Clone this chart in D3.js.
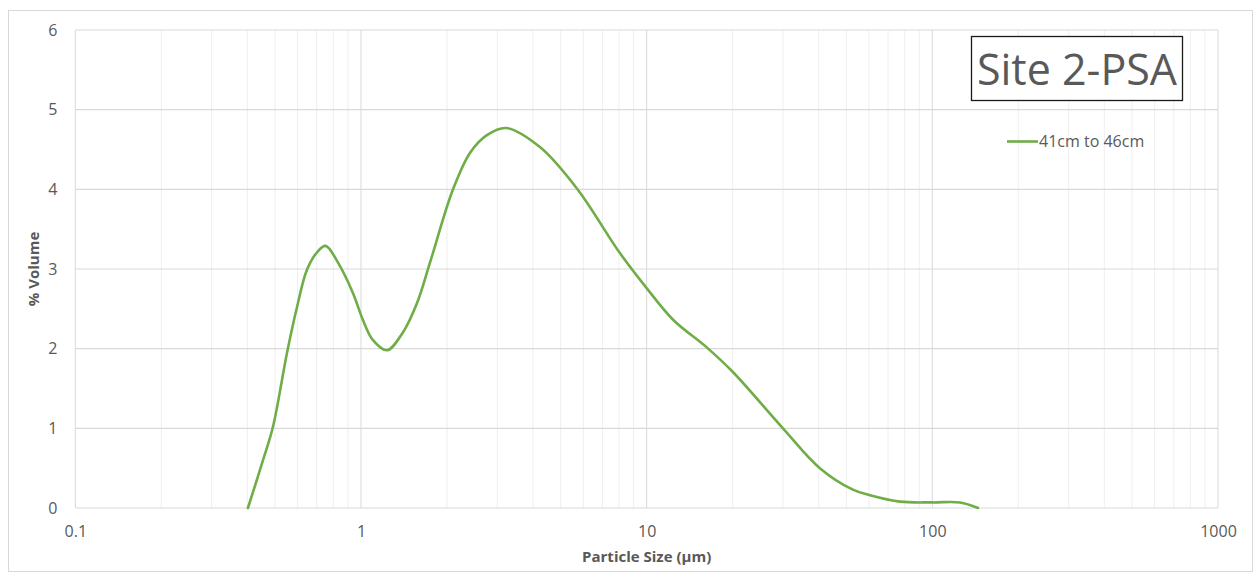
<!DOCTYPE html>
<html><head><meta charset="utf-8">
<script src="https://cdn.jsdelivr.net/npm/d3@7"></script>
<style>body{margin:0;background:#fff}svg{display:block}text{font-family:"Open Sans","Noto Sans",sans-serif}</style>
</head><body>
<svg id="c" width="1255" height="575"></svg>
<script>
const sizes = [0.402,0.454,0.492,0.551,0.597,0.647,0.702,0.752,0.831,0.937,1.016,1.10,1.233,1.40,1.57,1.744,2.10,2.41,2.76,3.22,4.23,5.70,8.06,10.0,12.4,16.3,20.0,30.0,40.4,52.7,60.5,77.0,100,125,144.5];
const volume = [0,0.60,1.02,1.95,2.52,2.99,3.21,3.29,3.08,2.70,2.36,2.11,1.98,2.20,2.57,3.08,4.00,4.46,4.68,4.77,4.53,4.01,3.20,2.76,2.36,2.01,1.71,1.00,0.50,0.23,0.16,0.08,0.07,0.07,0];
const xTicks = [0.1,1,10,100,1000];
const yTicks = [0,1,2,3,4,5,6];
const seriesName = "41cm to 46cm";
const chartTitle = "Site 2-PSA";
const xTitle = "Particle Size (µm)";
const yTitle = "% Volume";

const svg = d3.select("#c");
const L=75.3, R=1218, T=30, B=508;
const x = d3.scaleLog().domain([0.1,1000]).range([L,R]);
const y = d3.scaleLinear().domain([0,6]).range([B,T]);

svg.append("rect").attr("x",8.5).attr("y",10.5).attr("width",1244).attr("height",561)
  .attr("fill","#fff").attr("stroke","#d9d9d9");

const minor=[];
for(let d=0.1; d<1000; d*=10){ for(let k=2;k<=9;k++) minor.push(+(d*k).toPrecision(3)); }
svg.append("g").selectAll("line").data(minor).join("line")
  .attr("x1",d=>x(d)).attr("x2",d=>x(d)).attr("y1",T).attr("y2",B)
  .attr("stroke","#efefef").attr("stroke-width",1);
svg.append("g").selectAll("line").data(xTicks).join("line")
  .attr("x1",d=>x(d)).attr("x2",d=>x(d)).attr("y1",T).attr("y2",B)
  .attr("stroke","#d9d9d9").attr("stroke-width",1);
svg.append("g").selectAll("line").data(yTicks).join("line")
  .attr("x1",L).attr("x2",R).attr("y1",d=>y(d)).attr("y2",d=>y(d))
  .attr("stroke","#d9d9d9").attr("stroke-width",1.2);

const yAxis = svg.append("g").attr("transform",`translate(${L},0)`)
  .call(d3.axisLeft(y).tickValues(yTicks).tickSize(0).tickPadding(18).tickFormat(d3.format("d")));
yAxis.select(".domain").remove();
yAxis.selectAll("text").attr("fill","#595959").attr("font-size",16);

const xAxis = svg.append("g").attr("transform",`translate(0,${B})`)
  .call(d3.axisBottom(x).tickValues(xTicks).tickSize(0).tickPadding(18).tickFormat(d=>String(d)));
xAxis.select(".domain").remove();
xAxis.selectAll("text").attr("fill","#595959").attr("font-size",16);

svg.append("text").attr("x",(L+R)/2).attr("y",562).attr("text-anchor","middle")
  .attr("font-size",15).attr("font-weight","bold").attr("fill","#595959").text(xTitle);
svg.append("text").attr("transform",`translate(39,${(T+B)/2}) rotate(-90)`).attr("text-anchor","middle")
  .attr("font-size",15).attr("font-weight","bold").attr("fill","#595959").text(yTitle);

const line = d3.line().x(d=>x(d[0])).y(d=>y(d[1])).curve(d3.curveCatmullRom.alpha(0.5));
svg.append("path").datum(sizes.map((s,i)=>[s,volume[i]]))
  .attr("d",line).attr("fill","none").attr("stroke","#70ad47").attr("stroke-width",2.6)
  .attr("stroke-linejoin","round").attr("stroke-linecap","round");

svg.append("rect").attr("x",971.5).attr("y",36.5).attr("width",211).attr("height",64)
  .attr("fill","#fff").attr("stroke","#1a1a1a").attr("stroke-width",1.3);
svg.append("text").attr("x",1077).attr("y",85).attr("text-anchor","middle")
  .attr("font-size",43).attr("fill","#595959").text(chartTitle);

svg.append("line").attr("x1",1007).attr("x2",1038).attr("y1",141.5).attr("y2",141.5)
  .attr("stroke","#70ad47").attr("stroke-width",2.6);
svg.append("text").attr("x",1039).attr("y",147).attr("font-size",16).attr("fill","#595959").text(seriesName);
</script>
</body></html>
